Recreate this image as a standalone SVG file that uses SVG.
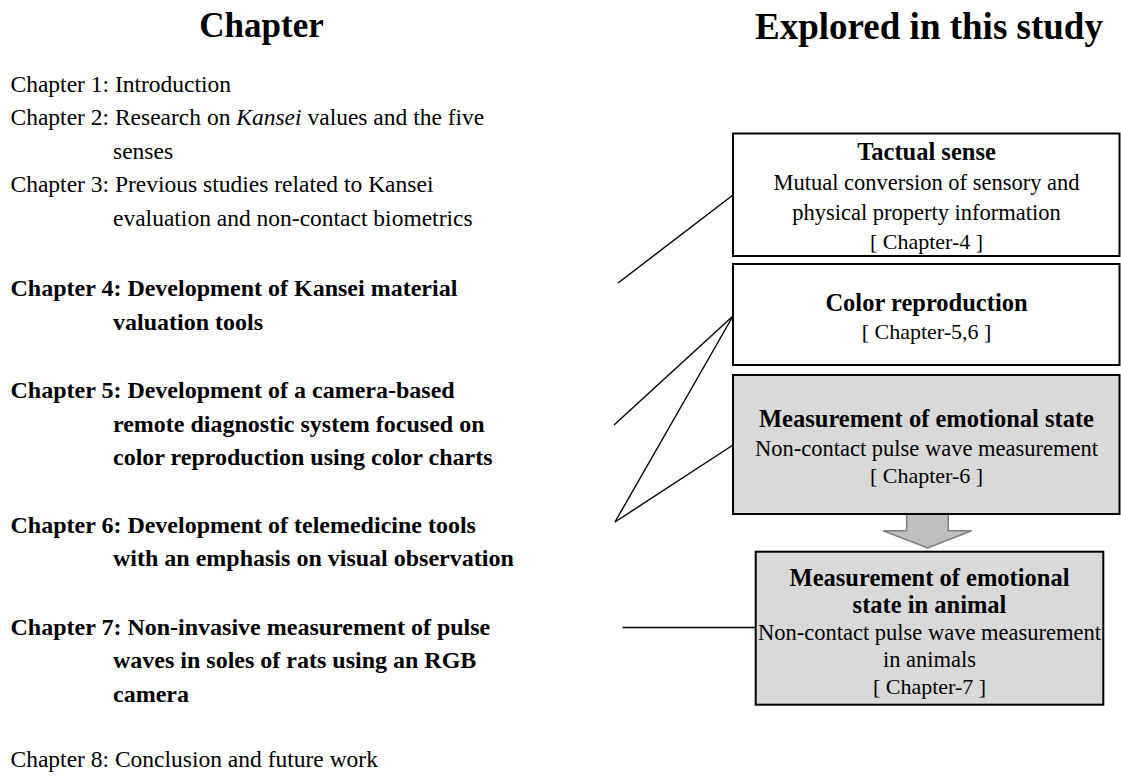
<svg xmlns="http://www.w3.org/2000/svg" width="1121" height="778" viewBox="0 0 1121 778">
  <style>
    text { font-family: "Liberation Serif", "Times New Roman", serif; fill: #000; }
    .title { font-weight: bold; text-anchor: middle; }
    .ch { font-size: 23.5px; }
    .chb { font-size: 24px; font-weight: bold; }
    .box { fill: #fff; stroke: #000; stroke-width: 2; }
    .box.shade { fill: #d9d9d9; }
    .bh { font-size: 24.5px; font-weight: bold; text-anchor: middle; }
    .bt { font-size: 22.5px; text-anchor: middle; }
    .bl { font-size: 22px; text-anchor: middle; }
    .link { stroke: #000; stroke-width: 1.4; fill: none; }
  </style>

  <!-- column headings -->
  <text class="title" x="261.5" y="37" font-size="35">Chapter</text>
  <text class="title" x="929" y="39" font-size="37">Explored in this study</text>

  <!-- chapter list -->
  <g id="chapters">
    <text class="ch" x="10.5" y="92">Chapter 1: Introduction</text>
    <text class="ch" x="10.5" y="125">Chapter 2: Research on <tspan font-style="italic">Kansei</tspan> values and the five</text>
    <text class="ch" x="113" y="159">senses</text>
    <text class="ch" x="10.5" y="192">Chapter 3: Previous studies related to Kansei</text>
    <text class="ch" x="113" y="226">evaluation and non-contact biometrics</text>

    <text class="chb" x="10.5" y="296">Chapter 4: Development of Kansei material</text>
    <text class="chb" x="113" y="330">valuation tools</text>

    <text class="chb" x="10.5" y="398">Chapter 5: Development of a camera-based</text>
    <text class="chb" x="113" y="432">remote diagnostic system focused on</text>
    <text class="chb" x="113" y="465">color reproduction using color charts</text>

    <text class="chb" x="10.5" y="533">Chapter 6: Development of telemedicine tools</text>
    <text class="chb" x="113" y="566">with an emphasis on visual observation</text>

    <text class="chb" x="10.5" y="635">Chapter 7: Non-invasive measurement of pulse</text>
    <text class="chb" x="113" y="668">waves in soles of rats using an RGB</text>
    <text class="chb" x="113" y="702">camera</text>

    <text class="ch" x="10.5" y="767">Chapter 8: Conclusion and future work</text>
  </g>

  <!-- connectors from chapters to topics -->
  <g id="connectors">
    <line class="link" x1="618" y1="283" x2="733" y2="195"/>
    <line class="link" x1="614" y1="425" x2="733" y2="316"/>
    <line class="link" x1="615" y1="522" x2="733" y2="316"/>
    <line class="link" x1="615" y1="522" x2="733" y2="445"/>
    <line class="link" x1="622.5" y1="627.5" x2="755.7" y2="627.5"/>
    <!-- block arrow between the two emotional-state boxes -->
    <path d="M906.7,514 L948.3,514 L948.3,530.7 L971.7,530.7 L927.5,548 L883.3,530.7 L906.7,530.7 Z" fill="#bfbfbf" stroke="#7f7f7f" stroke-width="1.5"/>
  </g>

  <g id="tactual">
    <rect class="box" x="733" y="133.5" width="386.5" height="122.5"/>
    <text class="bh" x="926.5" y="160">Tactual sense</text>
    <text class="bt" x="926.5" y="190" font-size="24.5">Mutual conversion of sensory and</text>
    <text class="bt" x="926.5" y="220" font-size="24.5">physical property information</text>
    <text class="bl" x="926.5" y="249">[ Chapter-4 ]</text>
  </g>

  <g id="color">
    <rect class="box" x="733" y="264" width="386.5" height="101"/>
    <text class="bh" x="926.5" y="311">Color reproduction</text>
    <text class="bl" x="926.5" y="339">[ Chapter-5,6 ]</text>
  </g>

  <g id="emotion">
    <rect class="box shade" x="733" y="375" width="386.5" height="139"/>
    <text class="bh" x="926.5" y="427" font-size="23.5">Measurement of emotional state</text>
    <text class="bt" x="926.5" y="456">Non-contact pulse wave measurement</text>
    <text class="bl" x="926.5" y="483">[ Chapter-6 ]</text>
  </g>

  <g id="emotion-animal">
    <rect class="box shade" x="755.7" y="551.7" width="347.6" height="153"/>
    <text class="bh" x="929.5" y="586">Measurement of emotional</text>
    <text class="bh" x="929.5" y="613">state in animal</text>
    <text class="bt" x="929.5" y="640">Non-contact pulse wave measurement</text>
    <text class="bt" x="929.5" y="667">in animals</text>
    <text class="bl" x="929.5" y="694">[ Chapter-7 ]</text>
  </g>
</svg>
